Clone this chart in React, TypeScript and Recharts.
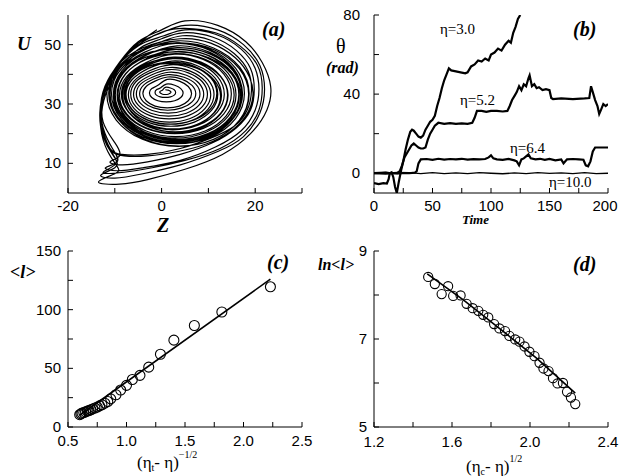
import React from "react"
import { ComposedChart, Line, Scatter, XAxis, YAxis } from "recharts"

// ---- panel (a): phase portrait, hand-traced loops (Z, U), inner to outer
const orbitLoops: [number, number][][] = [
  [[0.8, 34.8], [1.4, 34.7], [1.8, 34.4], [2.0, 34], [1.8, 33.6], [1.4, 33.3], [0.8, 33.2], [0.2, 33.3], [-0.2, 33.6], [-0.4, 34], [-0.2, 34.4], [0.2, 34.7]],
  [[0.8, 35.6], [1.9, 35.4], [2.7, 34.8], [3.0, 33.9], [2.7, 33.0], [1.9, 32.4], [0.8, 32.2], [-0.3, 32.4], [-1.1, 33.0], [-1.4, 33.9], [-1.1, 34.8], [-0.3, 35.4]],
  [[1, 36.7], [2.8, 36.3], [4.1, 35.2], [4.6, 33.7], [4.1, 32.2], [2.8, 31.1], [1, 30.7], [-0.8, 31.1], [-2.1, 32.2], [-2.6, 33.7], [-2.1, 35.2], [-0.8, 36.3]],
  [[1.2, 38.3], [3.8, 37.7], [5.7, 35.9], [6.4, 33.5], [5.7, 31.1], [3.8, 29.3], [1.2, 28.7], [-1.4, 29.3], [-3.3, 31.1], [-4.0, 33.5], [-3.3, 35.9], [-1.4, 37.7]],
  [[1.3, 39.1], [4.3, 38.4], [6.5, 36.3], [7.3, 33.5], [6.5, 30.7], [4.3, 28.7], [1.3, 27.9], [-1.7, 28.7], [-3.9, 30.7], [-4.7, 33.5], [-3.9, 36.3], [-1.7, 38.4]],
  [[1.4, 39.9], [4.8, 39.0], [7.3, 36.7], [8.2, 33.4], [7.3, 30.2], [4.8, 27.8], [1.4, 26.9], [-2.0, 27.8], [-4.5, 30.2], [-5.4, 33.4], [-4.5, 36.7], [-2.0, 39.0]],
  [[1.5, 40.7], [5.3, 39.7], [8.0, 37.0], [9.0, 33.3], [8.0, 29.6], [5.3, 26.9], [1.5, 25.9], [-2.3, 26.9], [-5.0, 29.6], [-6.0, 33.3], [-5.0, 37.0], [-2.3, 39.7]],
  [[1.6, 41.6], [5.7, 40.5], [8.7, 37.5], [9.8, 33.3], [8.7, 29.1], [5.7, 26.1], [1.6, 25.0], [-2.5, 26.1], [-5.5, 29.1], [-6.6, 33.3], [-5.5, 37.5], [-2.5, 40.5]],
  [[1.7, 42.3], [6.1, 41.1], [9.3, 37.7], [10.5, 33.1], [9.3, 28.5], [6.1, 25.1], [1.7, 23.9], [-2.7, 25.1], [-5.9, 28.5], [-7.1, 33.1], [-5.9, 37.7], [-2.7, 41.1]],
  [[1.8, 43.2], [6.5, 41.9], [9.9, 38.2], [11.2, 33.2], [9.9, 28.2], [6.5, 24.5], [1.8, 23.2], [-2.9, 24.5], [-6.3, 28.2], [-7.6, 33.2], [-6.3, 38.2], [-2.9, 41.9]],
  [[2.0, 44.0], [6.9, 42.6], [10.5, 38.8], [11.8, 33.6], [10.5, 28.4], [6.9, 24.6], [2.0, 23.2], [-2.9, 24.6], [-6.5, 28.4], [-7.8, 33.6], [-6.5, 38.8], [-2.9, 42.6]],
  [[2, 44.1], [7, 42.7], [10.7, 38.7], [12, 33.3], [10.7, 27.9], [7, 23.9], [2, 22.5], [-3, 23.9], [-6.7, 27.9], [-8, 33.3], [-6.7, 38.7], [-3, 42.7]],
  [[2.4, 43.6], [7.5, 42.1], [11.2, 38.1], [12.6, 32.6], [11.2, 27.1], [7.5, 23.1], [2.4, 21.6], [-2.7, 23.1], [-6.4, 27.1], [-7.8, 32.6], [-6.4, 38.1], [-2.7, 42.1]],
  [[2.2, 44.5], [7.5, 43.0], [11.4, 38.8], [12.8, 33], [11.4, 27.3], [7.5, 23.0], [2.2, 21.5], [-3.1, 23.0], [-7.0, 27.3], [-8.4, 33], [-7.0, 38.8], [-3.1, 43.0]],
  [[2.4, 45.3], [7.9, 43.7], [11.9, 39.3], [13.4, 33.3], [11.9, 27.3], [7.9, 22.9], [2.4, 21.3], [-3.1, 22.9], [-7.1, 27.3], [-8.6, 33.3], [-7.1, 39.3], [-3.1, 43.7]],
  [[2.9, 45.4], [8.5, 43.7], [12.6, 39.2], [14.1, 33.0], [12.6, 26.8], [8.5, 22.3], [2.9, 20.6], [-2.7, 22.3], [-6.8, 26.8], [-8.3, 33.0], [-6.8, 39.2], [-2.7, 43.7]],
  [[2.6, 45.8], [8.4, 44.1], [12.6, 39.4], [14.2, 33], [12.6, 26.6], [8.4, 21.9], [2.6, 20.2], [-3.2, 21.9], [-7.4, 26.6], [-9.0, 33], [-7.4, 39.4], [-3.2, 44.1]],
  [[2.8, 46.8], [8.9, 45.0], [13.3, 40.1], [14.9, 33.4], [13.3, 26.7], [8.9, 21.8], [2.8, 20.0], [-3.3, 21.8], [-7.7, 26.7], [-9.3, 33.4], [-7.7, 40.1], [-3.3, 45.0]],
  [[3, 47], [9.3, 45.1], [13.8, 40], [15.5, 33], [13.8, 26], [9.3, 20.9], [3, 19], [-3.3, 20.9], [-7.8, 26], [-9.5, 33], [-7.8, 40], [-3.3, 45.1]],
  [[3, 47.7], [9.5, 45.7], [14.2, 40.4], [15.9, 33.1], [14.2, 25.8], [9.5, 20.5], [3, 18.5], [-3.5, 20.5], [-8.2, 25.8], [-9.9, 33.1], [-8.2, 40.4], [-3.5, 45.7]],
  [[3.6, 47.6], [10.1, 45.6], [14.9, 40.2], [16.6, 32.8], [14.9, 25.4], [10.1, 20.0], [3.6, 18.0], [-2.9, 20.0], [-7.7, 25.4], [-9.4, 32.8], [-7.7, 40.2], [-2.9, 45.6]],
  [[3.2, 48.4], [9.9, 46.4], [14.7, 40.8], [16.5, 33.2], [14.7, 25.6], [9.9, 20.0], [3.2, 18.0], [-3.5, 20.0], [-8.3, 25.6], [-10.1, 33.2], [-8.3, 40.8], [-3.5, 46.4]],
  [[3.4, 49], [10.3, 46.9], [15.3, 41.2], [17.1, 33.3], [15.3, 25.5], [10.3, 19.7], [3.4, 17.6], [-3.5, 19.7], [-8.5, 25.5], [-10.3, 33.3], [-8.5, 41.2], [-3.5, 46.9]],
  [[3.3, 48.4], [10.1, 46.3], [15.1, 40.5], [16.9, 32.6], [15.1, 24.7], [10.1, 18.9], [3.3, 16.8], [-3.5, 18.9], [-8.5, 24.7], [-10.3, 32.6], [-8.5, 40.5], [-3.5, 46.3]],
  [[3.3, 49.6], [10.3, 47.4], [15.4, 41.5], [17.3, 33.4], [15.4, 25.3], [10.3, 19.4], [3.3, 17.2], [-3.7, 19.4], [-8.8, 25.3], [-10.7, 33.4], [-8.8, 41.5], [-3.7, 47.4]],
  [[3.0, 50.4], [10.1, 48.2], [15.3, 42.1], [17.2, 33.8], [15.3, 25.5], [10.1, 19.4], [3.0, 17.2], [-4.1, 19.4], [-9.3, 25.5], [-11.2, 33.8], [-9.3, 42.1], [-4.1, 48.2]],
  [[3.2, 50.6], [10.5, 48.3], [15.8, 42.1], [17.7, 33.6], [15.8, 25.1], [10.5, 18.9], [3.2, 16.6], [-4.1, 18.9], [-9.4, 25.1], [-11.3, 33.6], [-9.4, 42.1], [-4.1, 48.3]],
  [[3.8, 50.6], [11.2, 48.3], [16.6, 41.9], [18.6, 33.2], [16.6, 24.5], [11.2, 18.1], [3.8, 15.8], [-3.6, 18.1], [-9.0, 24.5], [-11.0, 33.2], [-9.0, 41.9], [-3.6, 48.3]],
  [[3.5, 51.3], [11.1, 48.9], [16.7, 42.4], [18.7, 33.5], [16.7, 24.6], [11.1, 18.1], [3.5, 15.7], [-4.1, 18.1], [-9.7, 24.6], [-11.7, 33.5], [-9.7, 42.4], [-4.1, 48.9]],
  [[4, 52], [10.5, 50.5], [15.8, 45.5], [18.8, 39], [19.5, 32.5], [18, 26], [14.5, 20.5], [9.5, 16.5], [3.5, 14], [-3, 12.5], [-8, 12.5], [-11, 14.5], [-12.5, 20], [-12.8, 27], [-11.5, 35], [-8.5, 42], [-4.5, 48], [0, 51]],
  [[4.5, 53], [10.5, 51.5], [15.5, 47], [18.5, 41], [19.2, 34.5], [18.3, 28], [15.5, 22.5], [10.5, 18.5], [4, 15], [-3, 13], [-8.5, 13], [-11, 15], [-12.5, 21], [-13, 28], [-11.5, 36], [-8.5, 43], [-4.5, 49], [0, 52]],
  [[4.5, 54], [11, 52.5], [16, 48], [19, 42], [19.8, 35], [19, 28], [16, 22], [11, 17], [4, 13], [-3, 10.5], [-8.5, 9.5], [-11, 10.5], [-9, 12.5], [-10, 17], [-12.5, 24], [-12.5, 32], [-11, 39], [-8, 45.5], [-4, 50.5], [0.5, 53]],
  [[5, 55], [11.5, 53.5], [17, 48.5], [20, 42], [20.8, 35], [20, 28], [17, 21], [11.5, 15.5], [4, 11], [-4, 8.5], [-9.5, 7.5], [-12, 8.5], [-9.5, 10.5], [-10.5, 15], [-12.5, 22], [-13, 30], [-11.5, 38], [-8, 45.5], [-4, 51], [0.5, 54.5]],
  [[5, 55.5], [11.5, 54], [16.8, 49.5], [20.5, 43], [21.5, 35.5], [20.8, 28], [18, 21], [12.5, 15], [5, 11], [-2, 8.5], [-8, 7], [-12.5, 6.8], [-10, 9.5], [-10.5, 13], [-12.5, 19], [-13.2, 27], [-12, 36], [-9, 44], [-5, 50.5], [0, 54]],
  [[5, 56.5], [12, 55], [17.5, 50], [21, 43], [22, 35], [21, 27], [17.5, 19], [12, 14], [4, 9.5], [-4, 6.5], [-10, 5], [-13, 6], [-10, 8.5], [-10, 12], [-12, 18], [-13, 27], [-12, 36], [-9, 44], [-5, 51], [0, 55]],
  [[5, 58], [12, 56.5], [18, 51], [21.5, 44], [23.3, 36], [22.5, 28], [19, 20], [13, 13], [5, 8], [-3, 4.5], [-9, 3], [-13.5, 3.7], [-10, 6.5], [-9.5, 9], [-11.5, 14], [-13, 22], [-12.5, 32], [-10, 41], [-6, 49], [-1, 55]],
]

// ---- panel (b): theta(t) for four eta values
const eta30: [number, number][] = [
  [0, -5], [4, -5.5], [8, -5], [11, -5.2], [12.5, -3], [13.5, 0], [15, 0.5], [16.5, -2], [18, -7], [19.5, -10], [21, -5], [23, 1], [25, 6], [27, 12], [29, 17], [31, 21], [32.5, 22], [34, 21.5], [36, 20], [38, 18.5], [40, 18], [42, 19], [44, 22], [46, 24], [48, 26], [50, 27], [52, 29], [54, 34], [56, 38], [58, 43], [60, 47], [62, 50], [64, 53], [66, 52], [70, 51.5], [74, 51], [78, 50.5], [80, 51], [83, 54], [86, 55], [89, 57], [92, 56.5], [95, 58], [98, 57], [100, 60], [103, 61], [106, 63], [109, 62], [112, 65], [115, 67], [117, 66], [119, 71], [121, 74], [123, 78], [125, 80],
]
const eta52: [number, number][] = [
  [0, 0], [10, 0.3], [15, 0], [20, 0.2], [22, 1], [24, 4], [26, 8], [28, 10], [30, 12], [32, 14], [34, 15], [36, 14], [38, 13], [40, 12.5], [42, 12.5], [44, 13], [46, 17], [48, 20], [50, 22], [52, 24], [55, 25.5], [60, 25], [65, 25.3], [70, 25], [75, 25.2], [80, 25], [84, 25.5], [86, 28], [88, 31.5], [92, 31.5], [96, 31], [100, 31.5], [105, 31.5], [110, 31.2], [114, 31.5], [116, 34], [118, 37], [120, 39], [122, 41], [124, 44], [126, 42], [128, 45], [130, 44], [132, 48], [133, 49.5], [135, 44], [137, 45], [139, 43], [141, 43.5], [144, 42], [147, 42.5], [150, 42], [151.5, 38], [153, 37.5], [160, 37.8], [170, 37.5], [180, 37.8], [184, 38], [185.5, 44], [187, 41], [189, 37], [191, 34], [192.5, 30], [194, 32], [196, 35], [198, 34], [200, 35],
]
const eta64: [number, number][] = [
  [0, 0], [10, -0.2], [20, 0.2], [30, 0], [35, 0.3], [36.5, 1], [38, 5], [40, 7], [45, 7.2], [50, 6.8], [55, 7.3], [60, 6.9], [65, 7.2], [70, 7], [75, 7.3], [80, 6.9], [85, 7.1], [90, 7], [95, 7.2], [98, 8], [100, 9], [102, 7.5], [105, 7], [110, 6.8], [115, 7.2], [120, 6.5], [122, 6], [124, 4], [126, 7], [128, 7.5], [130, 8.5], [132, 9.5], [134, 7.5], [138, 7], [142, 7.3], [146, 6.8], [150, 7.2], [155, 6.5], [160, 7], [162, 5], [165, 7], [170, 7.2], [175, 7], [179, 6.8], [181, 4], [183, 3.5], [185, 6], [187, 11], [189, 13], [195, 13], [200, 13],
]
const eta100: [number, number][] = [
  [0, 0], [10, 0.4], [20, -0.3], [30, 0.3], [40, -0.2], [50, 0.3], [60, -0.2], [70, 0.2], [80, -0.2], [90, 0.3], [100, 0], [110, -0.3], [120, 0.2], [130, -0.2], [140, 0.3], [150, -0.1], [160, 0.2], [170, -0.2], [180, 0.3], [190, -0.2], [200, 0],
]

// ---- panel (c): <l> vs (eta_t - eta)^(-1/2)
const lenPoints: [number, number][] = [
  [0.6, 10.5], [0.61, 11.2], [0.62, 11.8], [0.635, 12.3], [0.65, 12.9], [0.665, 13.5], [0.68, 14.1], [0.695, 14.7], [0.71, 15.4], [0.73, 16.2], [0.75, 17.0], [0.77, 18.0], [0.79, 19.0], [0.815, 20.3], [0.84, 21.7], [0.865, 24.0], [0.91, 27.5], [0.95, 31.5], [1.0, 35.5], [1.05, 40.5], [1.115, 44.0], [1.19, 51.0], [1.29, 62.0], [1.405, 74.0], [1.58, 86.5], [1.815, 98.0], [2.23, 119.5],
]
const lenFit: [number, number][] = [[0.6, 10], [2.23, 126]]

// ---- panel (d): ln<l> vs (eta_c - eta)^(1/2)
const lnPoints: [number, number][] = [
  [1.478, 8.41], [1.512, 8.25], [1.547, 8.02], [1.58, 8.2], [1.606, 7.98], [1.644, 7.99], [1.675, 7.8], [1.706, 7.7], [1.735, 7.64], [1.76, 7.55], [1.786, 7.49], [1.816, 7.34], [1.843, 7.24], [1.872, 7.18], [1.894, 7.07], [1.924, 6.99], [1.946, 6.94], [1.972, 6.83], [1.997, 6.71], [2.023, 6.61], [2.049, 6.46], [2.069, 6.33], [2.095, 6.27], [2.118, 6.11], [2.141, 5.99], [2.169, 6.0], [2.19, 5.8], [2.21, 5.67], [2.232, 5.52],
]
const lnFit: [number, number][] = [[1.473, 8.48], [1.658, 7.89], [1.864, 7.17], [2.035, 6.56], [2.232, 5.77]]

const SANS = "'Liberation Sans', Arial, sans-serif"
const SERIF = "'Liberation Serif', 'Times New Roman', serif"

const toXY = (arr: [number, number][]) => arr.map(([x, y]) => ({ x, y }))
// one continuous spiral: each loop runs into the next one
const orbitData = toXY(orbitLoops.flat())

type Side = "bottom" | "left" | "top" | "right"

function makeTick(side: Side, labeled: number[], fmt: (v: number) => string, gap: number, maxX = 9999) {
  return (props: any) => {
    const { x, y, payload } = props
    const v = Number(payload.value)
    const show = labeled.some((l) => Math.abs(l - v) < 1e-9)
    let x2 = x
    let y2 = y
    if (side === "bottom") y2 = y - 5
    if (side === "top") y2 = y + 5
    if (side === "left") x2 = x + 5
    if (side === "right") x2 = x - 5
    return (
      <g>
        <line x1={x} y1={y} x2={x2} y2={y2} stroke="#000" strokeWidth={1} />
        {show && side === "bottom" && (
          <text x={Math.min(x, maxX)} y={y + gap} textAnchor="middle" fontFamily={SANS} fontSize={15} fill="#000">
            {fmt(v)}
          </text>
        )}
        {show && side === "left" && (
          <text x={x - gap} y={y + 5} textAnchor="end" fontFamily={SANS} fontSize={15} fill="#000">
            {fmt(v)}
          </text>
        )}
      </g>
    )
  }
}

function frame(o: {
  xDomain: [number, number]
  xTicks: number[]
  xLabels: number[]
  xFmt: (v: number) => string
  yDomain: [number, number]
  yTicks: number[]
  yLabels: number[]
  yFmt: (v: number) => string
  xHeight: number
  yWidth: number
  xGap: number
  yGap: number
  maxX?: number
}) {
  const line = { stroke: "#000", strokeWidth: 1 }
  return [
    <XAxis key="xb" xAxisId="b" type="number" dataKey="x" domain={o.xDomain} allowDataOverflow ticks={o.xTicks} interval={0}
      height={o.xHeight} tickSize={0} tickMargin={0} tickLine={false} axisLine={line} tick={makeTick("bottom", o.xLabels, o.xFmt, o.xGap, o.maxX)} />,
    <XAxis key="xt" xAxisId="t" orientation="top" type="number" dataKey="x" domain={o.xDomain} allowDataOverflow ticks={o.xTicks} interval={0}
      height={0} tickSize={0} tickMargin={0} tickLine={false} axisLine={line} tick={makeTick("top", [], o.xFmt, 0)} />,
    <YAxis key="yl" yAxisId="l" type="number" dataKey="y" domain={o.yDomain} allowDataOverflow ticks={o.yTicks} interval={0}
      width={o.yWidth} tickSize={0} tickMargin={0} tickLine={false} axisLine={line} tick={makeTick("left", o.yLabels, o.yFmt, o.yGap)} />,
    <YAxis key="yr" yAxisId="r" orientation="right" type="number" dataKey="y" domain={o.yDomain} allowDataOverflow ticks={o.yTicks} interval={0}
      width={0} tickSize={0} tickMargin={0} tickLine={false} axisLine={line} tick={makeTick("right", [], o.yFmt, 0)} />,
  ]
}

const ring = (p: any) => <circle cx={p.cx} cy={p.cy} r={5} fill="none" stroke="#000" strokeWidth={1.1} />
const ringSmall = (p: any) => <circle cx={p.cx} cy={p.cy} r={4.6} fill="none" stroke="#000" strokeWidth={1.1} />

const pos = (left: number, top: number): React.CSSProperties => ({ position: "absolute", left, top })

export default function App() {
  return (
    <div style={{ position: "absolute", left: 0, top: 0, width: 619, height: 476, background: "#fff" }}>
      <div style={pos(0, 0)}>
        <ComposedChart width={318} height={236} margin={{ top: 15, right: 16, bottom: 0, left: 0 }}>
          {frame({
            xDomain: [-20, 30], xTicks: [-20, -10, 0, 10, 20, 30], xLabels: [-20, 0, 20], xFmt: (v) => (v < 0 ? "-" + -v : String(v)),
            yDomain: [0, 60], yTicks: [10, 20, 30, 40, 50], yLabels: [10, 30, 50], yFmt: String,
            xHeight: 43, yWidth: 68, xGap: 18, yGap: 7,
          })}
          <Line xAxisId="b" yAxisId="l" data={orbitData} dataKey="y" type="natural" stroke="#000" strokeWidth={1.2} dot={false} isAnimationActive={false} />
        </ComposedChart>
      </div>

      <div style={pos(310, 0)}>
        <ComposedChart width={309} height={236} margin={{ top: 15, right: 11, bottom: 0, left: 0 }}>
          {frame({
            xDomain: [0, 200], xTicks: [0, 25, 50, 75, 100, 125, 150, 175, 200], xLabels: [0, 50, 100, 150, 200], xFmt: String,
            yDomain: [-10, 80], yTicks: [0, 20, 40, 60, 80], yLabels: [0, 40, 80], yFmt: String,
            xHeight: 43, yWidth: 64, xGap: 18, yGap: 14, maxX: 295,
          })}
          <Line xAxisId="b" yAxisId="l" data={toXY(eta100)} dataKey="y" type="linear" stroke="#000" strokeWidth={1.4} dot={false} isAnimationActive={false} />
          <Line xAxisId="b" yAxisId="l" data={toXY(eta64)} dataKey="y" type="linear" stroke="#000" strokeWidth={2.2} dot={false} isAnimationActive={false} />
          <Line xAxisId="b" yAxisId="l" data={toXY(eta52)} dataKey="y" type="linear" stroke="#000" strokeWidth={2.2} dot={false} isAnimationActive={false} />
          <Line xAxisId="b" yAxisId="l" data={toXY(eta30)} dataKey="y" type="linear" stroke="#000" strokeWidth={2.2} dot={false} isAnimationActive={false} />
        </ComposedChart>
      </div>

      <div style={pos(0, 236)}>
        <ComposedChart width={318} height={240} margin={{ top: 15, right: 16, bottom: 0, left: 0 }}>
          {frame({
            xDomain: [0.5, 2.5], xTicks: [0.5, 0.75, 1, 1.25, 1.5, 1.75, 2, 2.25, 2.5], xLabels: [0.5, 1, 1.5, 2, 2.5], xFmt: (v) => v.toFixed(1),
            yDomain: [0, 150], yTicks: [0, 25, 50, 75, 100, 125, 150], yLabels: [0, 50, 100, 150], yFmt: String,
            xHeight: 49, yWidth: 68, xGap: 19, yGap: 7,
          })}
          <Line xAxisId="b" yAxisId="l" data={toXY(lenFit)} dataKey="y" type="linear" stroke="#000" strokeWidth={1.6} dot={false} isAnimationActive={false} />
          <Scatter xAxisId="b" yAxisId="l" data={toXY(lenPoints)} dataKey="y" shape={ring} isAnimationActive={false} />
        </ComposedChart>
      </div>

      <div style={pos(310, 236)}>
        <ComposedChart width={309} height={240} margin={{ top: 15, right: 11, bottom: 0, left: 0 }}>
          {frame({
            xDomain: [1.2, 2.4], xTicks: [1.2, 1.4, 1.6, 1.8, 2.0, 2.2, 2.4], xLabels: [1.2, 1.6, 2.0, 2.4], xFmt: (v) => v.toFixed(1),
            yDomain: [5, 9], yTicks: [5, 6, 7, 8, 9], yLabels: [5, 7, 9], yFmt: String,
            xHeight: 49, yWidth: 64, xGap: 20, yGap: 7,
          })}
          <Line xAxisId="b" yAxisId="l" data={toXY(lnFit)} dataKey="y" type="linear" stroke="#000" strokeWidth={1.6} dot={false} isAnimationActive={false} />
          <Scatter xAxisId="b" yAxisId="l" data={toXY(lnPoints)} dataKey="y" shape={ringSmall} isAnimationActive={false} />
        </ComposedChart>
      </div>

      <svg width={619} height={476} style={{ position: "absolute", left: 0, top: 0, pointerEvents: "none" }}>
        <g fontFamily={SERIF} fill="#000">
          <text x={262} y={36} fontSize={20} fontWeight="bold" fontStyle="italic">(a)</text>
          <text x={573} y={36} fontSize={20} fontWeight="bold" fontStyle="italic">(b)</text>
          <text x={267} y={269} fontSize={20} fontWeight="bold" fontStyle="italic">(c)</text>
          <text x={573} y={271} fontSize={20} fontWeight="bold" fontStyle="italic">(d)</text>

          <text x={17} y={50} fontSize={19} fontWeight="bold" fontStyle="italic">U</text>
          <text x={157} y={232} fontSize={20} fontWeight="bold" fontStyle="italic">Z</text>

          <text x={336} y={53} fontSize={20}>θ</text>
          <text x={326} y={73} fontSize={16} fontWeight="bold" fontStyle="italic">(rad)</text>
          <text x={462} y={224} fontSize={13} fontWeight="bold" fontStyle="italic">Time</text>

          <text x={440} y={34} fontSize={15}>η=3.0</text>
          <text x={460} y={105} fontSize={15}>η=5.2</text>
          <text x={510} y={153} fontSize={15}>η=6.4</text>
          <text x={549} y={187} fontSize={15}>η=10.0</text>

          <text x={10} y={278} fontSize={18} fontWeight="bold" fontStyle="italic">&lt;l&gt;</text>
          <text x={318} y={270} fontSize={16} fontWeight="bold" fontStyle="italic">ln&lt;l&gt;</text>

          <text x={137} y={468} fontSize={17}>
            (η<tspan fontSize={10} dy={3}>t</tspan>
            <tspan dy={-3}>- η)</tspan>
            <tspan fontSize={10} dy={-10}>−1/2</tspan>
          </text>
          <text x={466} y={472} fontSize={17}>
            (η<tspan fontSize={10} dy={3}>c</tspan>
            <tspan dy={-3}>- η)</tspan>
            <tspan fontSize={10} dy={-10}>1/2</tspan>
          </text>
        </g>
      </svg>
    </div>
  )
}
